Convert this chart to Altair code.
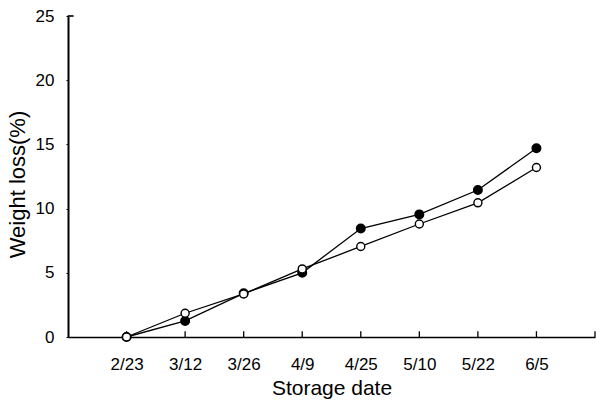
import altair as alt
import pandas as pd

dates = ["2/23", "3/12", "3/26", "4/9", "4/25", "5/10", "5/22", "6/5"]
filled_vals = [0.0, 1.25, 3.4, 5.0, 8.45, 9.55, 11.45, 14.7]
open_vals = [0.0, 1.85, 3.35, 5.3, 7.05, 8.8, 10.45, 13.2]

rows = []
for i, d in enumerate(dates):
    rows.append({"idx": i, "date": d, "loss": filled_vals[i], "series": "filled"})
for i, d in enumerate(dates):
    rows.append({"idx": i, "date": d, "loss": open_vals[i], "series": "open"})
df = pd.DataFrame(rows)

tick_positions = list(range(len(dates))) + [len(dates)]
tick_df = pd.DataFrame({"idx": tick_positions, "loss": [0.22] * len(tick_positions)})
cap_df = pd.DataFrame({"idx": [-0.955], "loss": [25.0]})

label_expr = "[" + ",".join("'" + d + "'" for d in dates) + "][datum.value] || ''"

FONT = "Liberation Sans"

xscale = alt.Scale(domain=[-1, len(dates)], nice=False, zero=False)
yscale = alt.Scale(domain=[0, 25], nice=False)

x_axis = alt.Axis(
    title="Storage date", values=list(range(len(dates))), labelExpr=label_expr,
    ticks=False, grid=False, domainColor="black", domainWidth=1.5, zindex=0,
    labelFont=FONT, labelFontSize=17, labelColor="black", labelPadding=19,
    titleFont=FONT, titleFontSize=21, titleFontWeight="normal", titleColor="black",
    titlePadding=5,
)
y_axis = alt.Axis(
    title="Weight loss(%)", values=[0, 5, 10, 15, 20, 25], grid=False,
    tickSize=2, tickColor="black", domainColor="black", domainWidth=2, zindex=0,
    labelFont=FONT, labelFontSize=17, labelColor="black", labelPadding=12,
    titleFont=FONT, titleFontSize=22, titleFontWeight="normal", titleColor="black",
    titlePadding=6, titleY=168,
)

X = alt.X("idx:Q", scale=xscale, axis=x_axis)
Y = alt.Y("loss:Q", scale=yscale, axis=y_axis)

lines = alt.Chart(df).mark_line(color="black", strokeWidth=1.3).encode(
    x=X, y=Y, detail="series:N",
)

ticks = alt.Chart(tick_df).mark_tick(
    color="black", orient="vertical", size=6, thickness=1.3, opacity=1
).encode(x=X, y=Y)

cap = alt.Chart(cap_df).mark_tick(
    color="black", orient="horizontal", size=6, thickness=1.6, opacity=1
).encode(x=X, y=Y)

pts_filled = alt.Chart(df[df.series == "filled"]).mark_point(
    shape="circle", filled=True, fill="black", stroke="black", size=64, opacity=1
).encode(x=X, y=Y)

pts_open = alt.Chart(df[df.series == "open"]).mark_point(
    shape="circle", filled=True, fill="white", stroke="black", strokeWidth=1.4, size=64,
    opacity=1
).encode(x=X, y=Y)

chart = alt.layer(lines, ticks, cap, pts_filled, pts_open).properties(
    width=527, height=321,
    background="white",
    autosize=alt.AutoSizeParams(type="none"),
    padding={"left": 68, "top": 16, "right": 1, "bottom": 70},
).configure_view(stroke=None)

chart.save("out.html", embed_options={"renderer": "svg", "actions": False})
